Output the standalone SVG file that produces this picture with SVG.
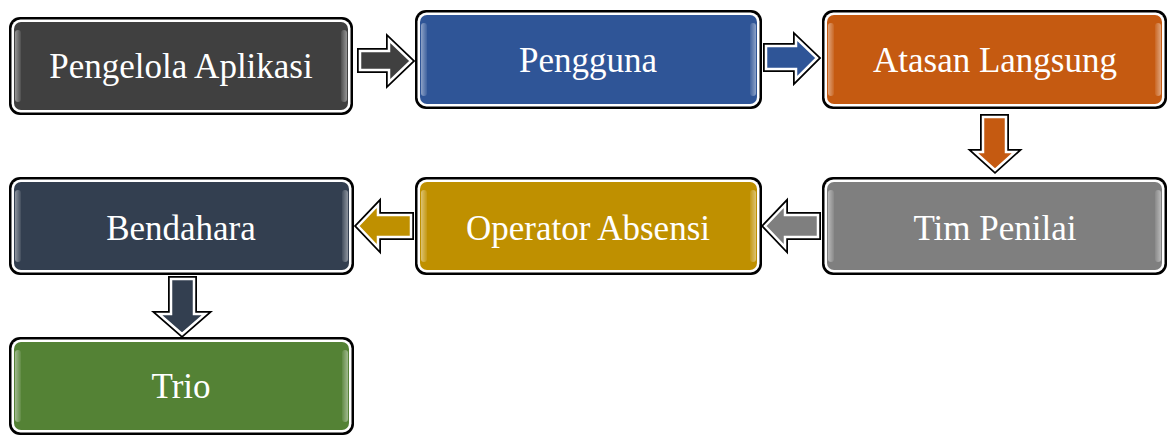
<svg xmlns="http://www.w3.org/2000/svg" width="1176" height="447" viewBox="0 0 1176 447">
<defs>
<linearGradient id="hlL" x1="0" y1="0" x2="1" y2="0">
<stop offset="0" stop-color="#fff" stop-opacity="0.45"/>
<stop offset="1" stop-color="#fff" stop-opacity="0.08"/>
</linearGradient>
<linearGradient id="hlR" x1="0" y1="0" x2="1" y2="0">
<stop offset="0" stop-color="#fff" stop-opacity="0.08"/>
<stop offset="1" stop-color="#fff" stop-opacity="0.45"/>
</linearGradient>
</defs>
<style>
.outer{fill:#000}
.ring{fill:#fff}
.lbl{font-family:"Liberation Serif","Times New Roman",serif;font-size:35px;fill:#fff;text-anchor:middle}
.aout{stroke:#000;stroke-width:6;stroke-linejoin:miter;fill:#000}
.ain{stroke:#fff;stroke-width:2.5;stroke-linejoin:miter}
</style>
<g id="connectors">
<path class="aout" d="M360,51 H389 V40 L411,61 L389,82 V70 H360 Z"/>
<path class="ain" fill="#404040" d="M360,51 H389 V40 L411,61 L389,82 V70 H360 Z"/>
<path class="aout" d="M766,46 H796 V38 L817,58 L796,79 V69 H766 Z"/>
<path class="ain" fill="#2F5597" d="M766,46 H796 V38 L817,58 L796,79 V69 H766 Z"/>
<path class="aout" d="M983,117 H1006 V152 H1015 L995,170 L975,152 H983 Z"/>
<path class="ain" fill="#C55A11" d="M983,117 H1006 V152 H1015 L995,170 L975,152 H983 Z"/>
<path class="aout" d="M818,215 H785 V205 L765,226 L785,247 V237 H818 Z"/>
<path class="ain" fill="#7F7F7F" d="M818,215 H785 V205 L765,226 L785,247 V237 H818 Z"/>
<path class="aout" d="M411,215 H378 V205 L358,226 L378,247 V237 H411 Z"/>
<path class="ain" fill="#BF9000" d="M411,215 H378 V205 L358,226 L378,247 V237 H411 Z"/>
<path class="aout" d="M171,279 H194 V314 H205 L182,334 L159,314 H171 Z"/>
<path class="ain" fill="#333F50" d="M171,279 H194 V314 H205 L182,334 L159,314 H171 Z"/>
</g>
<g id="n1">
<rect class="outer" x="9" y="17" width="344" height="98" rx="11"/>
<rect class="ring" x="11.5" y="19.5" width="339" height="93" rx="9"/>
<rect fill="#404040" x="14" y="22" width="334" height="88" rx="7"/>
<rect fill="url(#hlL)" x="15" y="30" width="6" height="72" rx="3"/>
<rect fill="url(#hlR)" x="341" y="30" width="6" height="72" rx="3"/>
<text class="lbl" x="181" y="78">Pengelola Aplikasi</text>
</g>
<g id="n2">
<rect class="outer" x="415" y="10" width="347" height="99" rx="11"/>
<rect class="ring" x="417.5" y="12.5" width="342" height="94" rx="9"/>
<rect fill="#2F5597" x="420" y="15" width="337" height="89" rx="7"/>
<rect fill="url(#hlL)" x="421" y="23" width="6" height="73" rx="3"/>
<rect fill="url(#hlR)" x="750" y="23" width="6" height="73" rx="3"/>
<text class="lbl" x="588" y="72">Pengguna</text>
</g>
<g id="n3">
<rect class="outer" x="822" y="10" width="345" height="99" rx="11"/>
<rect class="ring" x="824.5" y="12.5" width="340" height="94" rx="9"/>
<rect fill="#C55A11" x="827" y="15" width="335" height="89" rx="7"/>
<rect fill="url(#hlL)" x="828" y="23" width="6" height="73" rx="3"/>
<rect fill="url(#hlR)" x="1155" y="23" width="6" height="73" rx="3"/>
<text class="lbl" x="995" y="72">Atasan Langsung</text>
</g>
<g id="n4">
<rect class="outer" x="822" y="177" width="345" height="98" rx="11"/>
<rect class="ring" x="824.5" y="179.5" width="340" height="93" rx="9"/>
<rect fill="#7F7F7F" x="827" y="182" width="335" height="88" rx="7"/>
<rect fill="url(#hlL)" x="828" y="190" width="6" height="72" rx="3"/>
<rect fill="url(#hlR)" x="1155" y="190" width="6" height="72" rx="3"/>
<text class="lbl" x="995" y="240">Tim Penilai</text>
</g>
<g id="n5">
<rect class="outer" x="415" y="177" width="347" height="98" rx="11"/>
<rect class="ring" x="417.5" y="179.5" width="342" height="93" rx="9"/>
<rect fill="#BF9000" x="420" y="182" width="337" height="88" rx="7"/>
<rect fill="url(#hlL)" x="421" y="190" width="6" height="72" rx="3"/>
<rect fill="url(#hlR)" x="750" y="190" width="6" height="72" rx="3"/>
<text class="lbl" x="588" y="240">Operator Absensi</text>
</g>
<g id="n6">
<rect class="outer" x="9" y="177" width="345" height="98" rx="11"/>
<rect class="ring" x="11.5" y="179.5" width="340" height="93" rx="9"/>
<rect fill="#333F50" x="14" y="182" width="335" height="88" rx="7"/>
<rect fill="url(#hlL)" x="15" y="190" width="6" height="72" rx="3"/>
<rect fill="url(#hlR)" x="342" y="190" width="6" height="72" rx="3"/>
<text class="lbl" x="181" y="240">Bendahara</text>
</g>
<g id="n7">
<rect class="outer" x="9" y="337" width="345" height="98" rx="11"/>
<rect class="ring" x="11.5" y="339.5" width="340" height="93" rx="9"/>
<rect fill="#548235" x="14" y="342" width="335" height="88" rx="7"/>
<rect fill="url(#hlL)" x="15" y="350" width="6" height="72" rx="3"/>
<rect fill="url(#hlR)" x="342" y="350" width="6" height="72" rx="3"/>
<text class="lbl" x="181" y="398">Trio</text>
</g>
</svg>
